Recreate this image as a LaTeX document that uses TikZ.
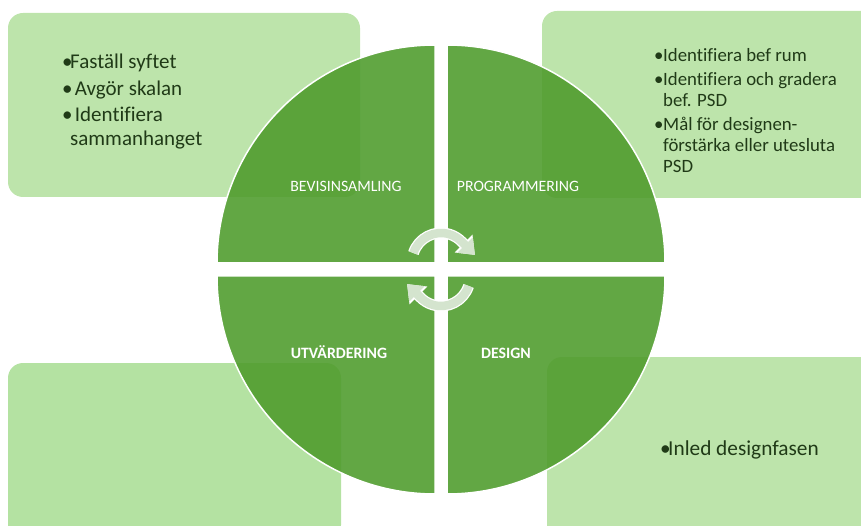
\documentclass[tikz,border=0pt]{standalone}
\usepackage{fontspec}
\setmainfont{Carlito}[Ligatures=NoCommon]
\usetikzlibrary{arrows.meta}

\definecolor{quadgreen}{HTML}{4F9C2D}
\definecolor{boxgreen}{HTML}{BDE4AB}
\definecolor{boxgreenb}{HTML}{B4E2A2}
\definecolor{textgreen}{HTML}{203A17}
\definecolor{cyclegreen}{HTML}{D4E4CE}

\newcommand{\bul}{\makebox[8pt][l]{•}}
\newcommand{\bulgap}{\makebox[8pt][l]{}}
\newcommand{\bulwide}{\makebox[9pt][l]{•}}
\newcommand{\bulwidegap}{\makebox[9pt][l]{}}

\tikzset{
  infobox/.style={fill=boxgreen, rounded corners=15pt},
  quad/.style={fill=quadgreen, fill opacity=0.89, draw=white, line width=1.5pt},
  quadlabel/.style={text=white, anchor=base, inner sep=0pt, font=\fontsize{15.8}{18}\selectfont},
  listtext/.style={text=textgreen, align=left, anchor=north west, inner sep=0pt},
  cyclearrow/.style={draw=cyclegreen, line width=8.5pt, -{Triangle[width=21pt,length=14pt]},
    preaction={draw=white, line width=11pt, -{Triangle[width=24pt,length=16pt]}}}
}

\begin{document}
\begin{tikzpicture}[x=1pt,y=1pt]
  \useasboundingbox (0,0) rectangle (861,525);

  % boxes behind the circle
  \fill[infobox] (8,328) rectangle (360,512);
  \fill[infobox] (542,327) rectangle (880,514);
  \fill[infobox, fill=boxgreenb] (8,-15) rectangle (341,162);
  \fill[infobox] (547,-15) rectangle (880,168);

  % four quarters
  \filldraw[quad] (435,262) -- (217,262) arc (180:90:218) -- cycle;
  \filldraw[quad] (447,262) -- (447,480) arc (90:0:218) -- cycle;
  \filldraw[quad] (447,249) -- (665,249) arc (0:-90:218) -- cycle;
  \filldraw[quad] (435,249) -- (435,31) arc (270:180:218) -- cycle;

  \node[quadlabel] (bevis) at (346,333) {BEVISINSAMLING};
  \node[quadlabel] (prog) at (518,333) {PROGRAMMERING};
  \node[quadlabel, font=\fontsize{15.8}{18}\selectfont\bfseries] (utv) at (339,167) {UTVÄRDERING};
  \node[quadlabel, font=\fontsize{15.8}{18}\selectfont\bfseries] (design) at (506,167) {DESIGN};

  % cycle arrows
  \draw[cyclearrow] (441,263) ++(162:29) arc (162:45:29) -- ++(-45:19);
  \draw[cyclearrow] (441,248) ++(-18:29) arc (-18:-135:29) -- ++(135:19);

  % texts in the boxes
  \node[listtext, font=\fontsize{21}{23.7}\selectfont] (bevistext) at (62,471)
    {\bul Faställ syftet\\[2.8pt]\bul\ Avgör skalan\\[2.8pt]\bul\ Identifiera\\\bulgap sammanhanget};
  \node[listtext, font=\fontsize{18.8}{21}\selectfont] (progtext) at (654,477)
    {\bulwide Identifiera bef rum\\[3pt]\bulwide Identifiera och gradera\\\bulwidegap bef. PSD\\[3pt]\bulwide Mål för designen-\\\bulwidegap förstärka eller utesluta\\\bulwidegap PSD};
  \node[listtext, font=\fontsize{21.3}{24}\selectfont] (designtext) at (660,84)
    {\bul Inled designfasen};
\end{tikzpicture}
\end{document}
